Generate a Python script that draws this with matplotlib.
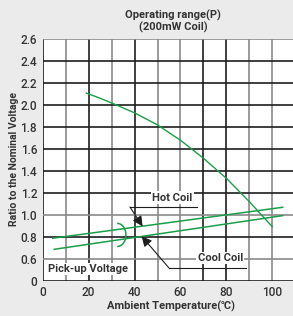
import matplotlib
matplotlib.use("Agg")
import matplotlib.pyplot as plt
from matplotlib.patches import Arc

plt.rcParams["font.family"] = ["Roboto", "DejaVu Sans"]

# max. allowable voltage curve
max_temp = [19, 25, 30, 40, 50, 60, 70, 80, 90, 100]
max_ratio = [2.11, 2.063, 2.02, 1.93, 1.82, 1.68, 1.516, 1.333, 1.12, 0.892]

# pick-up voltage lines
hot_temp = [4.4, 104.5]
hot_ratio = [0.787, 1.069]
cool_temp = [5.0, 104.5]
cool_ratio = [0.686, 0.993]

x_ticks = [0, 20, 40, 60, 80, 100]
y_ticks = [0.4, 0.6, 0.8, 1.0, 1.2, 1.4, 1.6, 1.8, 2.0, 2.2, 2.4, 2.6]
y_labels = ["0", "0.6", "0.8", "1.0", "1.2", "1.4", "1.6", "1.8", "2.0", "2.2", "2.4", "2.6"]

BG = "#ebebeb"
DARK = "#1e1e1e"
GREY = "#8a8a8a"
GREEN = "#1a9e4a"
TXT = "#333333"

fig = plt.figure(figsize=(2.93, 3.16), dpi=100, facecolor=BG)
ax = fig.add_axes([0.1457, 0.1117, 0.8543, 0.7639])
ax.set_xlim(0, 109)
ax.set_ylim(0.4, 2.6)
for s in ax.spines.values():
  s.set_visible(False)

# grid: mix of dark and grey lines like the scan
vgrid = {0: DARK, 10: GREY, 20: DARK, 30: GREY, 40: DARK, 50: GREY,
         60: GREY, 70: DARK, 80: DARK, 90: GREY, 100: GREY}
for xv, c in vgrid.items():
  ax.axvline(xv, color=c, lw=1.2, zorder=1)
hgrid = {0.4: DARK, 0.6: GREY, 0.8: DARK, 1.0: GREY, 1.2: DARK, 1.4: DARK,
         1.6: DARK, 1.8: DARK, 2.0: DARK, 2.2: DARK, 2.4: DARK, 2.6: GREY}
for yv, c in hgrid.items():
  ax.axhline(yv, color=c, lw=1.2, zorder=1)

ax.plot(max_temp, max_ratio, color=GREEN, lw=1.0, zorder=3)
ax.plot(hot_temp, hot_ratio, color=GREEN, lw=1.1, zorder=3)
ax.plot(cool_temp, cool_ratio, color=GREEN, lw=1.1, zorder=3)
ax.add_patch(Arc((32.5, 0.817), 7.5, 0.21, theta1=-125, theta2=125,
                 color=GREEN, lw=1.1, zorder=3))

ax.set_xticks(x_ticks)
ax.set_xticklabels([str(t) for t in x_ticks])
ax.set_yticks(y_ticks)
ax.set_yticklabels(y_labels)
ax.tick_params(length=0, labelsize=8.5, labelcolor=TXT, pad=4)
for lab in ax.get_xticklabels() + ax.get_yticklabels():
  lab.set_fontweight("medium")

box = dict(facecolor="white", edgecolor="none", pad=1.0)
arrow = dict(arrowstyle="-|>,head_length=0.6,head_width=0.3", color=DARK,
             lw=0.8, mutation_scale=10, shrinkA=0, shrinkB=0)

ax.text(56.4, 1.157, "Hot Coil", ha="center", va="center", fontsize=8,
        color=TXT, fontweight="bold", bbox=box, zorder=4)
ax.plot([38.0, 67.2], [1.072, 1.072], color=DARK, lw=0.8, zorder=4)
ax.annotate("", xy=(43.5, 0.895), xytext=(38.0, 1.072), arrowprops=arrow, zorder=4)

ax.text(77.3, 0.607, "Cool Coil", ha="center", va="center", fontsize=8,
        color=TXT, fontweight="bold", bbox=box, zorder=4)
ax.plot([55.0, 88.6], [0.516, 0.516], color=DARK, lw=0.8, zorder=4)
ax.annotate("", xy=(43.1, 0.805), xytext=(55.0, 0.516), arrowprops=arrow, zorder=4)

ax.text(19.7, 0.507, "Pick-up Voltage", ha="center", va="center", fontsize=8,
        color=TXT, fontweight="bold", bbox=box, zorder=4)

fig.text(173 / 293, 1 - 15 / 316, "Operating range(P)", ha="center", va="center",
         fontsize=8, fontweight="bold", color=TXT)
fig.text(173 / 293, 1 - 27 / 316, "(200mW Coil)", ha="center", va="center",
         fontsize=8, fontweight="bold", color=TXT)
fig.text(14 / 293, 1 - 159 / 316, "Ratio to the Nominal Voltage", rotation=90,
         ha="center", va="center", fontsize=7.5, fontweight="bold", color=TXT)
fig.text(171 / 293, 1 - 306 / 316, "Ambient Temperature(\u2103)", ha="center",
         va="center", fontsize=8, fontweight="bold", color=TXT,
         family=["Roboto", "Noto Sans CJK SC", "DejaVu Sans"])

fig.savefig("out.png", dpi=100, facecolor=BG)
